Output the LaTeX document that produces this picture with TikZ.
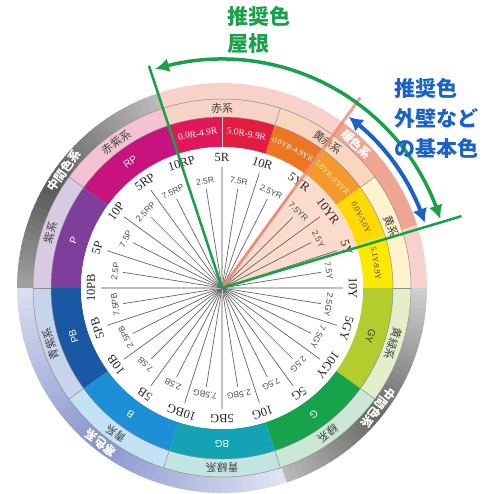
\documentclass[tikz,border=0pt]{standalone}
\usepackage{fontspec}
\setmainfont{Liberation Serif}
\newfontfamily\jp{Noto Sans CJK JP}
\newfontfamily\sansf{Liberation Sans}
\usetikzlibrary{arrows.meta,bending}
\definecolor{cRP}{HTML}{C8137E}
\definecolor{cRa}{HTML}{E1175A}
\definecolor{cRb}{HTML}{E31D40}
\definecolor{cYRa}{HTML}{EE7623}
\definecolor{cYRb}{HTML}{F3992E}
\definecolor{cYa}{HTML}{FFD900}
\definecolor{cYb}{HTML}{FFE800}
\definecolor{cGY}{HTML}{B3CD2E}
\definecolor{cG}{HTML}{17A34B}
\definecolor{cBG}{HTML}{13A3B4}
\definecolor{cB}{HTML}{1D8FD7}
\definecolor{cPB}{HTML}{1A58A6}
\definecolor{cP}{HTML}{7E3F9C}
\definecolor{pRP}{HTML}{F4C3D3}
\definecolor{pP}{HTML}{D9CAE4}
\definecolor{pPB}{HTML}{C8D3EC}
\definecolor{pB}{HTML}{C3E2F3}
\definecolor{pBG}{HTML}{C2E5E2}
\definecolor{pG}{HTML}{CBE7D6}
\definecolor{pGY}{HTML}{E3EECB}
\definecolor{pY}{HTML}{FFF3CE}
\definecolor{pYR}{HTML}{FBD6BF}
\definecolor{pR}{HTML}{F8D2C6}
\definecolor{warmc}{HTML}{EE9580}
\definecolor{coldc}{HTML}{6E7DC3}
\definecolor{recgreen}{HTML}{1BA04A}
\definecolor{recblue}{HTML}{1A62C8}
\definecolor{salmonln}{HTML}{EE8A70}
\definecolor{wedgec}{HTML}{F8C4AA}
\newcommand{\ringseg}[5]{%
  \fill[#1] (#2:#4pt) arc[start angle=#2,end angle=#3,radius=#4pt]
    -- (#3:#5pt) arc[start angle=#3,end angle=#2,radius=#5pt] -- cycle;}
\begin{document}
\begin{tikzpicture}[
  spk/.style={draw=black!60, line width=0.7pt},
  cardspk/.style={draw=black!25, line width=1.6pt},
  biglab/.style={font=\fontsize{12.5}{13}\selectfont, text=black!85, inner sep=0pt},
  smalllab/.style={font=\sansf\fontsize{8.5}{9}\selectfont, text=black!70, inner sep=0pt},
  huetxt/.style={font=\sansf\fontsize{10}{11}\selectfont, text=white, inner sep=0pt},
  rangetxt/.style={font=\fontsize{9.5}{10}\selectfont, text=white, inner sep=0pt},
  rangesm/.style={font=\fontsize{8}{9}\selectfont, text=white, inner sep=0pt},
  cattxt/.style={font=\jp\fontsize{11}{12}\selectfont, text=black!75, inner sep=0pt},
  grptxt/.style={font=\jp\bfseries\fontsize{12}{13}\selectfont, text=white, inner sep=0pt},
  divline/.style={draw=black!45, line width=0.5pt},
  greenline/.style={draw=recgreen, line width=2.5pt},
  greenarc/.style={draw=recgreen, line width=3.5pt, arrows={Latex[length=14pt,width=14pt]-Latex[length=14pt,width=14pt]}},
  bluearc/.style={draw=recblue, line width=4pt, arrows={Latex[length=14pt,width=15pt]-Latex[length=14pt,width=15pt]}},
  headg/.style={font=\jp\bfseries\fontsize{21}{27}\selectfont, text=recgreen, align=left, inner sep=0pt},
  headb/.style={font=\jp\bfseries\fontsize{21}{30}\selectfont, text=recblue, align=left, inner sep=0pt},
]
\useasboundingbox (-222pt,-205pt) rectangle (275pt,288pt);
\coordinate (O) at (0,0);
% outer ring gradients
\foreach \a in {108,110,...,178}{%
  \pgfmathsetmacro\pp{25+40*(1-abs(\a+1-150)/42)}%
  \pgfmathsetmacro\bb{\a+2.4}%
  \ringseg{black!\pp!white}{\a}{\bb}{189}{205}}
\foreach \a in {-72,-70,...,-2}{%
  \pgfmathsetmacro\pp{18+42*(1-abs(\a+1+40)/40)}%
  \pgfmathsetmacro\bb{\a+2.4}%
  \ringseg{black!\pp!white}{\a}{\bb}{189}{205}}
\foreach \a in {-180,-178,...,-74}{%
  \pgfmathsetmacro\pp{20+62*(1-abs(\a+1+128)/56)}%
  \pgfmathsetmacro\bb{\a+2.4}%
  \ringseg{coldc!\pp!white}{\a}{\bb}{189}{205}}
\foreach \a in {0,2,...,106}{%
  \pgfmathsetmacro\pp{(\a>16 && \a<54) ? 85 : 42}%
  \pgfmathsetmacro\bb{\a+2.4}%
  \ringseg{warmc!\pp!white}{\a}{\bb}{189}{205}}
% category ring
\foreach \s/\e/\c in {108/144/pRP,72/108/pR,36/72/pYR,0/36/pY,-36/0/pGY,-72/-36/pG,-108/-72/pBG,-144/-108/pB,-180/-144/pPB,144/180/pP}{%
  \ringseg{\c}{\s}{\e}{171}{189}}
% hue ring
\foreach \s/\e/\c in {108/144/cRP,90/108/cRa,72/90/cRb,54/72/cYRa,36/54/cYRb,18/36/cYa,0/18/cYb,-36/0/cGY,-72/-36/cG,-108/-72/cBG,-144/-108/cB,-180/-144/cPB,144/180/cP}{%
  \ringseg{\c}{\s}{\e}{141}{171}}
% white disc and highlight wedge
\fill[white] (O) circle[radius=141pt];
\fill[wedgec, opacity=0.6] (O) -- (16.7:141pt) arc[start angle=16.7,end angle=54,radius=141pt] -- cycle;
% ring borders and dividers
\draw[divline] (O) circle[radius=171pt];
\draw[divline] (O) circle[radius=189pt];
\foreach \a in {108,72,36,0,-36,-72,-108,-144,180,144}{%
  \draw[divline] (\a:171pt) -- (\a:189pt);}
\foreach \a in {90,54,18}{%
  \draw[draw=black!20, line width=0.4pt] (\a:141pt) -- (\a:171pt);}
% spokes and hue labels
\foreach \lab [count=\i from 0] in {5R,7.5R,10R,2.5YR,5YR,7.5YR,10YR,2.5Y,5Y,7.5Y,10Y,2.5GY,5GY,7.5GY,10GY,2.5G,5G,7.5G,10G,2.5BG,5BG,7.5BG,10BG,2.5B,5B,7.5B,10B,2.5PB,5PB,7.5PB,10PB,2.5P,5P,7.5P,10P,2.5RP,5RP,7.5RP,10RP,2.5R}{%
  \pgfmathsetmacro\ang{90-9*\i}%
  \pgfmathsetmacro\rot{\ang-90}%
  \ifodd\i
    \draw[spk] (O) -- (\ang:100pt);
    \node[smalllab, rotate=\rot] (lab\i) at (\ang:108pt) {\lab};
  \else
    \pgfmathtruncatemacro\md{mod(\i,10)}%
    \ifnum\md=0
      \draw[cardspk] (O) -- (\ang:121pt);
    \else
      \draw[spk] (O) -- (\ang:121pt);
    \fi
    \node[biglab, rotate=\rot] (lab\i) at (\ang:131pt) {\lab};
  \fi}
% hue ring labels
\foreach \a/\t [count=\k] in {126/RP,162/P,-162/PB,-126/B,-90/BG,-54/G}{%
  \node[huetxt, rotate=\a-90] (hue\k) at (\a:156pt) {\t};}
\node[huetxt, text=black!70!cGY, rotate=-108] (hueGY) at (-18:156pt) {GY};
\node[rangetxt, rotate=9] (rngRa) at (99:156pt) {0.0R-4.9R};
\node[rangetxt, rotate=-9] (rngRb) at (81:156pt) {5.0R-9.9R};
\node[rangesm, rotate=-27] (rngYRa) at (63:156pt) {0.0YR-4.9YR};
\node[rangesm, text=yellow!40, rotate=-45] (rngYRb) at (45:156pt) {5.0YR-9.9YR};
\node[rangesm, text=black!75, rotate=-63] (rngYa) at (27:156pt) {0.0Y-5.0Y};
\node[rangesm, text=black!75, rotate=-81] (rngYb) at (9:156pt) {5.1Y-9.9Y};
% category labels
\foreach \a/\t [count=\k] in {90/赤系,54/黄赤系,20/黄系,-18/黄緑系,-54/緑系,-90/青緑系,-126/青系,-162/青紫系,162/紫系,126/赤紫系}{%
  \node[cattxt, rotate=\a-90] (cat\k) at (\a:180pt) {\t};}
% group labels
\node[grptxt, rotate=53.5] (grpA) at (143.5:197pt) {中間色系};
\node[grptxt, rotate=-43] (grpB) at (47:197pt) {暖色系};
\node[grptxt, rotate=-127.5] (grpC) at (-37.5:197pt) {中間色系};
\node[grptxt, rotate=-218] (grpD) at (-128:197pt) {寒色系};
% highlight edge line
\coordinate (sEnd) at (54:235pt);
\draw[salmonln, line width=3pt, opacity=0.8] (O) -- (sEnd);
% green limits
\coordinate (gL) at (108.2:234pt);
\coordinate (gR) at (16.7:250pt);
\draw[greenline] (O) -- (gL);
\draw[greenline] (O) -- (gR);
\draw[greenarc] (107:229pt) arc[start angle=107,end angle=17.5,radius=229pt];
\draw[bluearc] (53.5:213pt) arc[start angle=53.5,end angle=17.8,radius=213pt];
% headings
\node[headg, anchor=north west] (roof) at (5pt,282pt) {推奨色\\屋根};
\node[headb, anchor=north west] (wall) at (172pt,210pt) {推奨色\\外壁など\\の基本色};
\end{tikzpicture}
\end{document}
